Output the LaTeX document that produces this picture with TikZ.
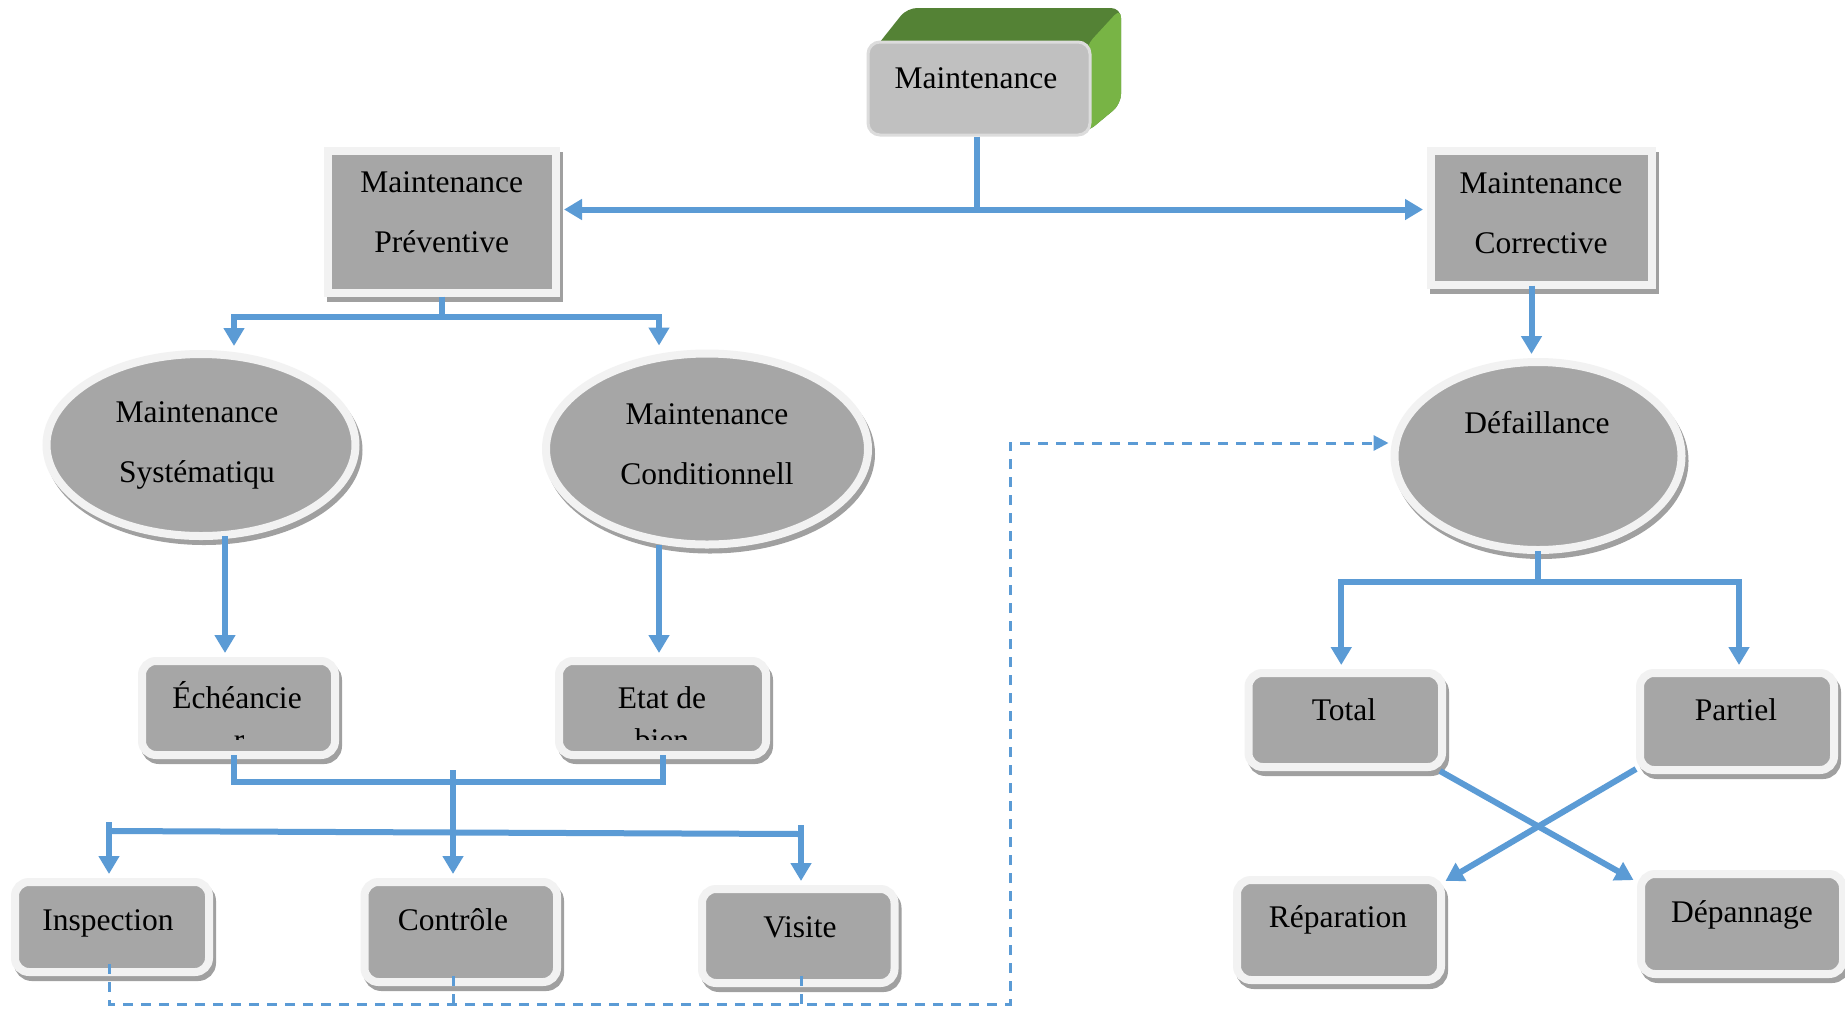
\documentclass[tikz,border=0pt]{standalone}
\usepackage{fontspec}
\setmainfont{Liberation Serif}
\usetikzlibrary{shapes.geometric,shadows,arrows.meta,calc}
\definecolor{boxgray}{HTML}{A6A6A6}
\definecolor{framegray}{HTML}{F2F2F2}
\definecolor{shadowgray}{HTML}{A0A0A0}
\definecolor{linkblue}{HTML}{5B9BD5}
\definecolor{topgray}{HTML}{C0C0C0}
\definecolor{toprim}{HTML}{DCDCDC}
\definecolor{darkgreen}{HTML}{548235}
\definecolor{lightgreen}{HTML}{78B445}
\begin{document}
\begin{tikzpicture}[x=0.5pt,y=-0.5pt,
  txt/.style={font=\fontsize{15.75}{30}\selectfont, align=center, inner sep=0pt},
  boxshadow/.style={drop shadow={shadow xshift=1.5pt, shadow yshift=-2.5pt, fill=shadowgray, draw=shadowgray, line width=4pt, opacity=1}},
  sqbox/.style={rectangle, fill=boxgray, draw=framegray, line width=4pt, inner sep=0pt, boxshadow},
  rbox/.style={sqbox, rounded corners=7pt},
  ell/.style={ellipse, fill=boxgray, draw=framegray, line width=4pt, inner sep=0pt, boxshadow},
  maintbox/.style={rectangle, rounded corners=6pt, fill=topgray, draw=toprim, line width=1.5pt, inner sep=0pt},
  conn/.style={draw=linkblue, line width=3pt},
  arr/.style={conn, -{Triangle[length=9pt,width=10pt]}, shorten >=2pt},
  dashlink/.style={draw=linkblue, line width=1.5pt, dash pattern=on 5pt off 4pt}
]
\fill[white] (0,0) rectangle (1845,1013);
\useasboundingbox (0,0) rectangle (1845,1013);

% ---- top 3D box
\fill[darkgreen, rounded corners=5pt] (872,52) -- (907,8) -- (1121,8) -- (1121,104) -- (1086,133) -- cycle;
\fill[lightgreen, rounded corners=5pt] (1086,46) -- (1121,8) -- (1121,104) -- (1086,133) -- cycle;
\node[maintbox, minimum width=111pt, minimum height=46.5pt] (maint) at (979,88.5) {};
\node[txt, anchor=base] (maintT) at (976,88) {Maintenance};

% ---- level 1
\node[sqbox, minimum width=114.25pt, minimum height=70.75pt] (prev) at (441.75,221.75) {};
\node[txt] (prevT) at (441.75,212.5) {Maintenance\\Préventive};
\node[sqbox, minimum width=110.5pt, minimum height=66.75pt] (corr) at (1541.5,217.75) {};
\node[txt] (corrT) at (1541,213) {Maintenance\\Corrective};

% ---- ellipses
\node[ell, minimum width=154.5pt, minimum height=91pt] (sys) at (201,445) {};
\node[txt] (sysT) at (197,445.5) {Maintenance\\Systématiqu};
\node[ell, minimum width=161pt, minimum height=95.5pt] (cond) at (707,449) {};
\node[txt] (condT) at (707,444) {Maintenance\\Conditionnell};
\node[ell, minimum width=143.5pt, minimum height=94pt] (def) at (1538,456) {};
\node[txt, anchor=base] (defT) at (1537,433) {Défaillance};

% ---- level 3
\node[rbox, minimum width=96.5pt, minimum height=47pt] (ech) at (238.5,708) {};
\node[txt, anchor=base] (echT) at (237,708) {Échéancie};
\node[rbox, minimum width=103.5pt, minimum height=47pt] (etat) at (662.5,708) {};
\node[txt, anchor=base] (etatT) at (662,708) {Etat de};
\begin{scope}
  \clip (100,700) rectangle (800,739);
  \node[txt, anchor=base] (echR) at (239,750) {r};
  \node[txt, anchor=base] (etatR) at (662,750) {bien};
\end{scope}

% ---- level 4
\node[rbox, minimum width=97pt, minimum height=45pt] (insp) at (112,927) {};
\node[txt, anchor=base] (inspT) at (108,930) {Inspection};
\node[rbox, minimum width=96.25pt, minimum height=50pt] (ctrl) at (460.75,932) {};
\node[txt, anchor=base] (ctrlT) at (453,930) {Contrôle};
\node[rbox, minimum width=96.25pt, minimum height=47pt] (vis) at (798.25,936) {};
\node[txt, anchor=base] (visT) at (800,937) {Visite};

% ---- right branch
\node[rbox, minimum width=96.75pt, minimum height=47pt] (total) at (1345.25,720) {};
\node[txt, anchor=base] (totalT) at (1344,720) {Total};
\node[rbox, minimum width=97pt, minimum height=48.5pt] (part) at (1737,721.5) {};
\node[txt, anchor=base] (partT) at (1736,720) {Partiel};
\node[rbox, minimum width=102pt, minimum height=50pt] (rep) at (1339,930) {};
\node[txt, anchor=base] (repT) at (1338,927) {Réparation};
\node[rbox, minimum width=101pt, minimum height=50pt] (dep) at (1742,924) {};
\node[txt, anchor=base] (depT) at (1742,922) {Dépannage};

% ---- connectors
\coordinate (j1) at ($(maint.south)+(-2,73)$);
\draw[conn] ($(maint.south)+(-2,0)$) -- (j1);
\draw[arr] (j1) -- (j1 -| prev.east);
\draw[arr] (j1) -- (j1 -| corr.west);

\coordinate (j2) at ($(prev.south)+(0,20)$);
\draw[conn] (prev.south) -- (j2);
\draw[arr] (j2) -| ($(sys.north)+(33,0)$);
\draw[arr] (j2) -| ($(cond.north)+(-48,0)$);

\coordinate (s1) at ($(sys.south)+(24,-4)$);
\draw[arr] (s1) -- (s1 |- ech.north);
\coordinate (c1) at ($(cond.south)+(-48,-4)$);
\draw[arr] (c1) -- (c1 |- etat.north);

\coordinate (e1) at ($(ech.south)+(-4.5,-4)$);
\coordinate (e2) at ($(etat.south)+(0,-4)$);
\draw[conn] (e1) |- ($(e2)+(0,27)$) -- (e2);

\coordinate (m1) at (453,770);
\coordinate (bl) at (109,831);
\coordinate (br) at (801,834);
\draw[conn] (bl) -- (br);
\draw[arr] (m1) -- (m1 |- ctrl.north);
\draw[arr] ($(bl)+(0,-9)$) -- (bl |- insp.north);
\draw[arr] ($(br)+(0,-9)$) -- (br |- vis.north);

\coordinate (k1) at ($(corr.south)+(-10,-3)$);
\draw[arr] (k1) -- (k1 |- def.north);
\coordinate (d1) at ($(def.south)+(0,28)$);
\draw[conn] ($(def.south)+(0,-3)$) -- (d1);
\draw[arr] (d1) -| ($(total.north)+(-4,0)$);
\draw[arr] (d1) -| ($(part.north)+(2,0)$);

\draw[arr] ($(total.south east)+(-6,0)$) -- ($(dep.north west)+(0,12)$);
\draw[arr] ($(part.south west)+(0,-5)$) -- ($(rep.north east)+(-3,7)$);

% ---- dashed links
\coordinate (q1) at ($(insp.south)+(-3,-12)$);
\coordinate (q2) at (1010,1004);
\draw[dashlink, -{Triangle[length=7.5pt,width=7.5pt]}] (q1) |- (q2) |- ($(def.west)+(-2,-13)$);
\draw[dashlink] ($(ctrl.south)+(-7,-10)$) -- ($(ctrl.south)+(-7,22)$);
\draw[dashlink] ($(vis.south)+(3,-11)$) -- ($(vis.south)+(3,21)$);
\end{tikzpicture}
\end{document}
